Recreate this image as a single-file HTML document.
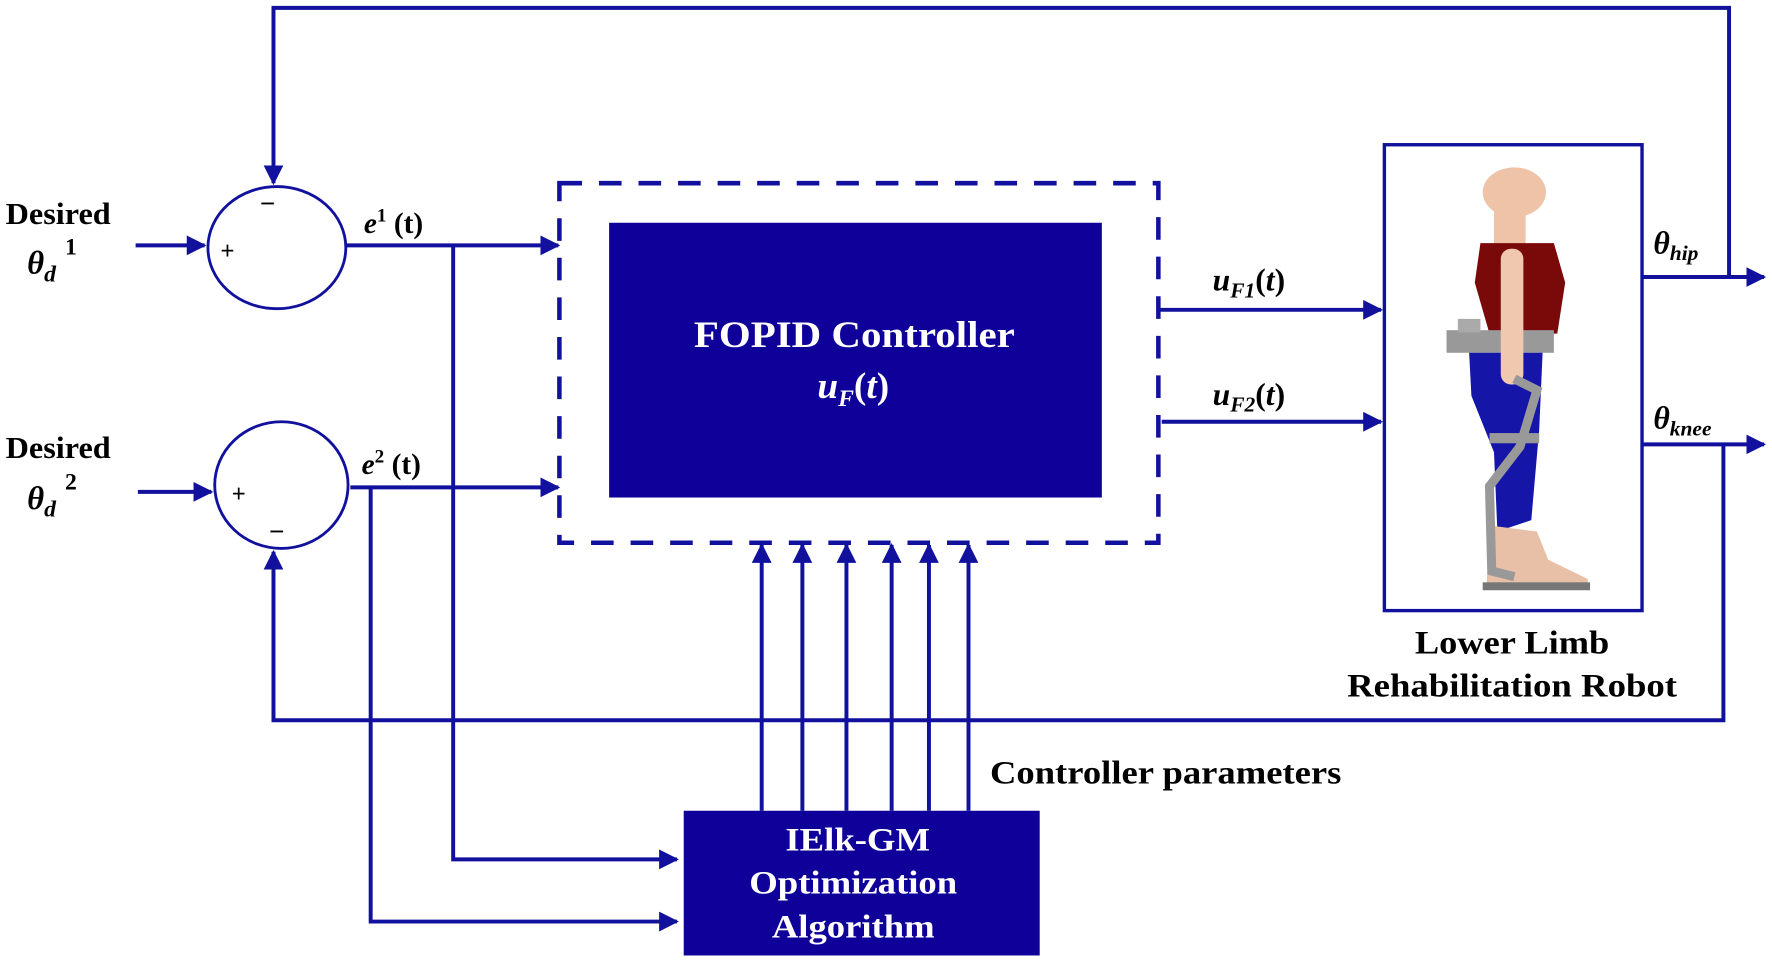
<!DOCTYPE html>
<html><head><meta charset="utf-8"><style>
html,body{margin:0;padding:0;background:#fff;width:1772px;height:960px;overflow:hidden}
svg{display:block}
text{font-family:"Liberation Serif",serif;font-weight:bold}
</style></head><body>
<svg width="1772" height="960" viewBox="0 0 1568 849" preserveAspectRatio="none" xmlns="http://www.w3.org/2000/svg">
<defs>
<marker id="a" viewBox="0 0 10 10" refX="9" refY="5" markerWidth="5" markerHeight="5" orient="auto" markerUnits="strokeWidth"><path d="M0,0L10,5L0,10z" fill="#11119e"/></marker>
</defs>
<g stroke="#11119e" stroke-width="3.5" fill="none">
<polyline points="1530,245 1530,7 242,7 242,162" marker-end="url(#a)"/>
<ellipse cx="245" cy="219" rx="61" ry="54" stroke-width="2.5"/>
<ellipse cx="249" cy="429" rx="59" ry="56" stroke-width="2.5"/>
<line x1="120" y1="217" x2="181" y2="217" marker-end="url(#a)"/>
<line x1="122" y1="435" x2="187" y2="435" marker-end="url(#a)"/>
<line x1="307" y1="217" x2="494" y2="217" marker-end="url(#a)"/>
<polyline points="401,217 401,760 599,760" marker-end="url(#a)"/>
<line x1="310" y1="431" x2="494" y2="431" marker-end="url(#a)"/>
<polyline points="328,431 328,815 599,815" marker-end="url(#a)"/>
<rect x="495" y="162" width="530" height="318" stroke-dasharray="20,15" stroke-width="4"/>
<line x1="1026" y1="274" x2="1222" y2="274" marker-end="url(#a)"/>
<line x1="1028" y1="373" x2="1222" y2="373" marker-end="url(#a)"/>
<rect x="1225" y="128" width="228" height="412" stroke-width="3"/>
<line x1="1453" y1="245" x2="1561" y2="245" marker-end="url(#a)"/>
<line x1="1453" y1="393" x2="1561" y2="393" marker-end="url(#a)"/>
<polyline points="1525,393 1525,637 242,637 242,488" marker-end="url(#a)"/>
<line x1="674" y1="717" x2="674" y2="482" marker-end="url(#a)"/>
<line x1="710" y1="717" x2="710" y2="482" marker-end="url(#a)"/>
<line x1="749" y1="717" x2="749" y2="482" marker-end="url(#a)"/>
<line x1="789" y1="717" x2="789" y2="482" marker-end="url(#a)"/>
<line x1="822" y1="717" x2="822" y2="482" marker-end="url(#a)"/>
<line x1="857" y1="717" x2="857" y2="482" marker-end="url(#a)"/>
</g>
<rect x="539" y="197" width="436" height="243" fill="#10009a"/>
<rect x="605" y="717" width="315" height="128" fill="#10009a"/>
<g>
<ellipse cx="1340" cy="170" rx="28" ry="22" fill="#eec3a8"/>
<rect x="1322" y="180" width="28" height="40" fill="#eec3a8"/>
<path d="M1310,215 L1375,215 L1385,250 L1378,295 L1318,295 L1305,250z" fill="#7a0a0a"/>
<rect x="1280" y="292" width="95" height="20" fill="#999"/>
<rect x="1290" y="282" width="20" height="12" fill="#aaa"/>
<path d="M1300,312 L1365,312 L1362,380 L1355,460 L1325,470 L1322,400 L1302,350z" fill="#1515a8"/>
<rect x="1328" y="220" width="20" height="120" rx="9" fill="#f0c8b0"/>
<path d="M1320,465 L1360,470 L1370,495 L1405,512 L1405,520 L1315,520z" fill="#e8c0a8"/>
<path d="M1340,335 L1360,345 L1345,395 L1318,430 L1320,505 L1340,510" stroke="#999" stroke-width="8" fill="none"/>
<rect x="1312" y="515" width="95" height="7" fill="#777"/>
<rect x="1318" y="383" width="44" height="9" fill="#999"/>
</g>
<text x="5" y="198" font-size="27" textLength="93" lengthAdjust="spacingAndGlyphs">Desired</text>
<text x="5" y="405" font-size="27" textLength="93" lengthAdjust="spacingAndGlyphs">Desired</text>
<text x="24" y="242" font-size="29" font-style="italic">θ<tspan font-size="21" dy="7">d</tspan><tspan font-size="21" font-style="normal" dy="-24" dx="8">1</tspan></text>
<text x="24" y="450" font-size="29" font-style="italic">θ<tspan font-size="21" dy="7">d</tspan><tspan font-size="21" font-style="normal" dy="-24" dx="8">2</tspan></text>
<text x="230" y="188" font-size="24" font-weight="normal">−</text>
<text x="195" y="229" font-size="22" font-weight="normal">+</text>
<text x="205" y="444" font-size="22" font-weight="normal">+</text>
<text x="238" y="478" font-size="24" font-weight="normal">−</text>
<text x="322" y="206" font-size="26"><tspan font-style="italic">e</tspan><tspan font-size="17" dy="-10">1</tspan><tspan dy="10"> (t)</tspan></text>
<text x="320" y="419" font-size="26"><tspan font-style="italic">e</tspan><tspan font-size="17" dy="-10">2</tspan><tspan dy="10"> (t)</tspan></text>
<text x="756" y="307" font-size="33" fill="#fff" text-anchor="middle" textLength="284" lengthAdjust="spacingAndGlyphs">FOPID Controller</text>
<text x="755" y="352" font-size="33" fill="#fff" text-anchor="middle" font-style="italic">u<tspan font-size="21" dy="7">F</tspan><tspan dy="-7" font-style="normal">(</tspan>t<tspan font-style="normal">)</tspan></text>
<text x="1073" y="257" font-size="28" font-style="italic">u<tspan font-size="19" dy="6">F1</tspan><tspan dy="-6" font-style="normal">(</tspan>t<tspan font-style="normal">)</tspan></text>
<text x="1073" y="358" font-size="28" font-style="italic">u<tspan font-size="19" dy="6">F2</tspan><tspan dy="-6" font-style="normal">(</tspan>t<tspan font-style="normal">)</tspan></text>
<text x="1463" y="224" font-size="28" font-style="italic">θ<tspan font-size="19" dy="6">hip</tspan></text>
<text x="1463" y="379" font-size="28" font-style="italic">θ<tspan font-size="19" dy="6">knee</tspan></text>
<text x="1338" y="578" font-size="29" text-anchor="middle" textLength="172" lengthAdjust="spacingAndGlyphs">Lower Limb</text>
<text x="1338" y="616" font-size="29" text-anchor="middle" textLength="292" lengthAdjust="spacingAndGlyphs">Rehabilitation Robot</text>
<text x="876" y="693" font-size="29" textLength="311" lengthAdjust="spacingAndGlyphs">Controller parameters</text>
<text x="759" y="752" font-size="29" fill="#fff" text-anchor="middle" textLength="128" lengthAdjust="spacingAndGlyphs">IElk-GM</text>
<text x="755" y="790" font-size="29" fill="#fff" text-anchor="middle" textLength="184" lengthAdjust="spacingAndGlyphs">Optimization</text>
<text x="755" y="829" font-size="29" fill="#fff" text-anchor="middle" textLength="144" lengthAdjust="spacingAndGlyphs">Algorithm</text>
</svg>
</body></html>
